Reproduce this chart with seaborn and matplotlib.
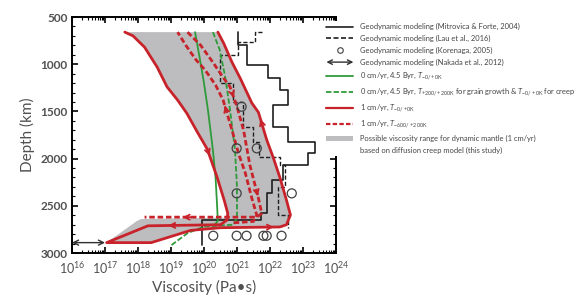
import numpy as np
import matplotlib
matplotlib.use("Agg")
import matplotlib.pyplot as plt
import seaborn as sns
from matplotlib.lines import Line2D
from matplotlib.patches import Patch, FancyArrowPatch
from matplotlib.legend_handler import HandlerPatch
from matplotlib.ticker import LogLocator, MultipleLocator, NullFormatter

# ---- data: log10 viscosity (Pa s) vs depth (km) ----
# Mitrovica & Forte (2004) step profile
mf_bounds = [656, 797, 1008, 1149, 1273, 1432, 1662, 1821, 1944, 2068, 2227, 2368, 2580, 2655, 2915]
mf_vals = [21.04, 21.29, 21.95, 22.30, 22.55, 22.10, 22.55, 23.36, 23.16, 22.38, 22.05, 21.92, 21.72, 19.93]

# Lau et al. (2016) step profile
lau_bounds = [656, 656, 762, 903, 1199, 1400, 1665, 1824, 1983, 2068, 2300, 2597, 2735]
lau_vals = [21.75, 21.55, 21.04, 20.48, 20.88, 21.18, 21.48, 21.66, 22.30, 22.45, 22.25, 22.55]

# Korenaga (2005)
kor_log = [21.14, 20.99, 21.60, 20.99, 22.66, 20.28, 20.99, 21.29, 21.80, 21.90, 22.35]
kor_depth = [1450, 1891, 1891, 2368, 2368, 2817, 2817, 2817, 2817, 2817, 2817]

# Nakada et al. (2012)
nakada_log = [16.0, 17.0]
nakada_depth = 2890

# 0 cm/yr, 4.5 Byr
g1_log = [19.73, 19.88, 20.0, 20.12, 20.27, 20.35, 20.39, 20.42, 20.3]
g1_depth = [660, 955, 1200, 1485, 1909, 2200, 2450, 2660, 2710]
g2_log = [20.27, 20.48, 20.65, 20.79, 20.94, 21.0, 21.0, 20.9, 20.0, 19.5, 19.0]
g2_depth = [660, 850, 1150, 1485, 1909, 2300, 2620, 2700, 2720, 2790, 2920]

# 1 cm/yr, T-0/+0K (loop)
r_log = [17.6, 17.85, 18.2, 18.58, 18.88, 19.2, 19.48, 19.8, 20.1, 20.4, 20.62, 20.72, 20.7, 20.5,
         18.3, 17.05, 18.4, 19.6, 20.5, 22.3, 22.5, 22.62, 22.5, 22.3, 22.1, 21.9, 21.65, 21.45,
         21.1, 20.85, 20.6, 20.42]
r_depth = [660, 700, 820, 1030, 1240, 1380, 1520, 1720, 1900, 2200, 2450, 2580, 2650, 2700,
           2712, 2890, 2890, 2760, 2732, 2724, 2700, 2597, 2440, 2200, 1990, 1800, 1510, 1411,
           1150, 980, 780, 660]
r_arrows = [(8, 0.2), (13, 0.68), (18, 0.86), (25, 0.72)]

# 1 cm/yr, T-600/+200K
d1_log = [20.9, 21.5, 21.6, 21.45, 21.25, 21.05, 20.85, 20.58, 20.35, 20.03, 19.75, 19.45, 19.2]
d1_depth = [2680, 2665, 2600, 2420, 2150, 1950, 1700, 1380, 1220, 1060, 950, 800, 660]
d1_arrows = [(6, 0.78)]
d2_log = [19.5, 19.9, 20.27, 20.6, 20.79, 21.0, 21.2, 21.39, 21.65, 21.75, 21.6, 18.2]
d2_depth = [660, 800, 980, 1150, 1240, 1450, 1700, 2068, 2420, 2580, 2620, 2620]
d2_arrows = [(4, 0.5), (7, 0.9), (10, 0.62)]

# possible viscosity range (gray)
gray_log = [17.6, 17.85, 18.2, 18.58, 18.88, 19.2, 19.48, 19.8, 20.1, 20.4, 20.62, 20.72, 20.72,
            18.1, 17.97, 17.05, 18.4, 19.6, 20.5, 22.3, 22.5, 22.62, 22.5, 22.3, 22.1, 21.9,
            21.65, 21.45, 21.1, 20.85, 20.6, 20.42]
gray_depth = [660, 700, 820, 1030, 1240, 1380, 1520, 1720, 1900, 2200, 2450, 2580, 2625,
              2640, 2660, 2890, 2890, 2760, 2732, 2724, 2700, 2597, 2440, 2200, 1990, 1800,
              1510, 1411, 1150, 980, 780, 660]

RED = "#c8232b"
GREEN = "#2f9a3a"
BLACK = "#1e1e1e"
GRAYFILL = "#bdbdbf"
TXT = "#505050"

sns.set_theme(style="ticks")
plt.rcParams['font.family'] = ['Lato', 'DejaVu Sans']
plt.rcParams['mathtext.fontset'] = 'custom'
plt.rcParams['mathtext.rm'] = 'Lato'
plt.rcParams['mathtext.it'] = 'Lato:italic'
plt.rcParams['mathtext.bf'] = 'Lato:bold'

fig = plt.figure(figsize=(5.83, 2.99), dpi=100)
ax = fig.add_axes([0.1235, 0.1538, 0.4528, 0.7893])


def steps(bounds, vals):
    xs, ys = [], []
    for i, v in enumerate(vals):
        xs += [v, v]
        ys += [bounds[i], bounds[i + 1]]
    return np.array(xs), np.array(ys)


def line(logv, depth, **kw):
    sns.lineplot(x=10.0 ** np.asarray(logv), y=np.asarray(depth), sort=False,
                 estimator=None, ax=ax, **kw)


def arrows(logv, depth, marks, color):
    for i, t in marks:
        x0, y0, x1, y1 = logv[i], depth[i], logv[i + 1], depth[i + 1]
        th, tt = t + 0.04, t - 0.04
        ax.annotate('', xy=(10 ** (x0 + (x1 - x0) * th), y0 + (y1 - y0) * th),
                    xytext=(10 ** (x0 + (x1 - x0) * tt), y0 + (y1 - y0) * tt),
                    arrowprops=dict(arrowstyle='->', color=color, lw=1.3,
                                    mutation_scale=9, shrinkA=0, shrinkB=0), zorder=6)


ax.fill(10.0 ** np.array(gray_log), gray_depth, color=GRAYFILL, lw=0, zorder=1)

x, y = steps(mf_bounds, mf_vals)
line(x, y, color=BLACK, lw=1.2, zorder=3)
x, y = steps(lau_bounds, lau_vals)
line(x, y, color=BLACK, lw=1.0, linestyle=(0, (3, 1.5)), zorder=3)

line(g1_log, g1_depth, color=GREEN, lw=1.3, zorder=4)
line(g2_log, g2_depth, color=GREEN, lw=1.3, linestyle=(0, (3, 1.2)), zorder=4)

line(r_log, r_depth, color=RED, lw=2.0, zorder=5)
line(d1_log, d1_depth, color=RED, lw=2.0, linestyle=(0, (2, 1)), zorder=5)
line(d2_log, d2_depth, color=RED, lw=2.0, linestyle=(0, (2, 1)), zorder=5)
arrows(r_log, r_depth, r_arrows, RED)
arrows(d1_log, d1_depth, d1_arrows, RED)
arrows(d2_log, d2_depth, d2_arrows, RED)

sns.scatterplot(x=10.0 ** np.array(kor_log), y=kor_depth, ax=ax, marker='o', s=42,
                facecolor='none', edgecolor='#404040', linewidth=0.9, zorder=7)

ax.annotate('', xy=(10 ** nakada_log[0], nakada_depth), xytext=(10 ** nakada_log[1], nakada_depth),
            arrowprops=dict(arrowstyle='<->', color='#303030', lw=1.0, mutation_scale=9,
                            shrinkA=0, shrinkB=0), zorder=6)

# axes
ax.set_xscale('log')
ax.set_xlim(1e16, 1e24)
ax.set_ylim(3000, 500)
ax.xaxis.set_major_locator(LogLocator(base=10, numticks=20))
ax.xaxis.set_minor_locator(LogLocator(base=10, subs=np.arange(2, 10), numticks=100))
ax.xaxis.set_minor_formatter(NullFormatter())
ax.yaxis.set_major_locator(MultipleLocator(500))
ax.yaxis.set_minor_locator(MultipleLocator(100))
ax.tick_params(which='both', direction='in', top=True, right=True, color='black',
               labelcolor=TXT, labelsize=8.5)
ax.tick_params(axis='x', labelsize=9)
ax.tick_params(which='major', length=4, width=1.2)
ax.tick_params(which='minor', length=2, width=0.8)
ax.tick_params(axis='x', pad=5)
ax.tick_params(axis='y', pad=3)
for lab in ax.get_yticklabels():
    lab.set_fontweight('bold')
for sp in ax.spines.values():
    sp.set_linewidth(1.4)
    sp.set_color('black')
ax.set_xlabel('Viscosity (Pa\u2022s)', fontsize=11, color=TXT, labelpad=3)
ax.set_ylabel('Depth (km)', fontsize=11, color=TXT, labelpad=4)


def make_arrow(legend, orig_handle, xdescent, ydescent, width, height, fontsize):
    yc = height / 2 - ydescent
    return FancyArrowPatch((-xdescent, yc), (width - xdescent, yc), arrowstyle='<->',
                           mutation_scale=8, shrinkA=0, shrinkB=0)


nakada_handle = FancyArrowPatch((0, 0), (1, 0), color='#303030', lw=1.0)
handles = [
    Line2D([], [], color=BLACK, lw=1.2),
    Line2D([], [], color=BLACK, lw=1.2, ls=(0, (3, 1.5))),
    Line2D([], [], ls='none', marker='o', mfc='none', mec='#404040', ms=4, mew=0.8),
    nakada_handle,
    Line2D([], [], color=GREEN, lw=1.3),
    Line2D([], [], color=GREEN, lw=1.3, ls=(0, (3, 1.2))),
    Line2D([], [], color=RED, lw=1.6),
    Line2D([], [], color=RED, lw=1.6, ls=(0, (2, 1))),
    Patch(facecolor=GRAYFILL, edgecolor='none'),
    Line2D([], [], color='none'),
]
labels = [
    'Geodynamic modeling (Mitrovica & Forte, 2004)',
    'Geodynamic modeling (Lau et al., 2016)',
    'Geodynamic modeling (Korenaga, 2005)',
    'Geodynamic modeling (Nakada et al., 2012)',
    r'0 cm/yr, 4.5 Byr, $T_{\mathrm{-0/+0K}}$',
    r'0 cm/yr, 4.5 Byr, $T_{\mathrm{+200/+200K}}$ for grain growth & $T_{\mathrm{-0/+0K}}$ for creep',
    r'1 cm/yr, $T_{\mathrm{-0/+0K}}$',
    r'1 cm/yr, $T_{\mathrm{-600/+200K}}$',
    'Possible viscosity range for dynamic mantle (1 cm/yr)',
    'based on diffusion creep model (this study)',
]
leg = ax.legend(handles, labels, loc='upper left', bbox_to_anchor=(0.556, 0.93),
                bbox_transform=fig.transFigure, fontsize=5.4, handlelength=3.6,
                handletextpad=0.9, labelspacing=0.62, borderpad=0.3, borderaxespad=0,
                frameon=True, facecolor='white', edgecolor='none', framealpha=1,
                labelcolor='#444444',
                handler_map={FancyArrowPatch: HandlerPatch(patch_func=make_arrow)})
leg.set_zorder(10)

fig.savefig('out.png', dpi=100)
